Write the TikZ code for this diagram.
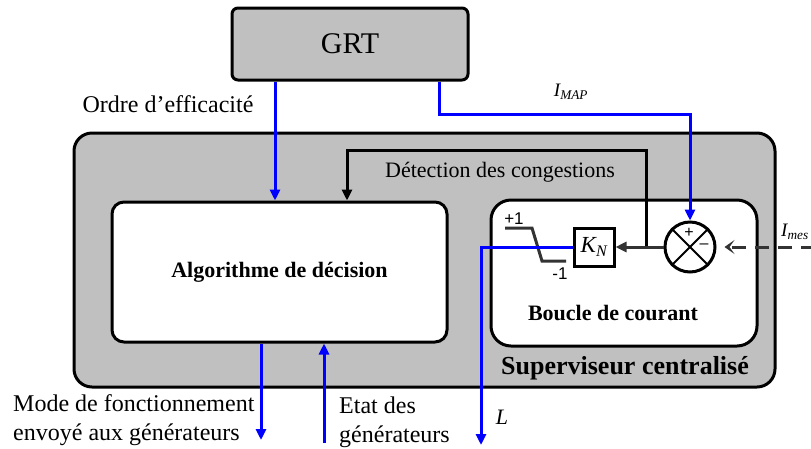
\documentclass[tikz,border=0pt]{standalone}
\usepackage{fontspec}
\setmainfont{Liberation Serif}
\newfontfamily\arialfont{Liberation Sans}
\usepackage{tikz}
\usetikzlibrary{positioning, arrows.meta}

\definecolor{grisbloc}{RGB}{192,192,192}
\definecolor{grisfonce}{RGB}{51,51,51}

\begin{document}
\begin{tikzpicture}[
    x=1pt, y=-1pt,
    bloc/.style={draw, line width=3pt, align=center, inner sep=0pt},
    texte/.style={inner sep=0pt, align=left},
    fleche/.style={draw=blue, line width=3pt, -{Triangle[length=11pt,width=10pt]}},
    retour/.style={draw, line width=3pt, -{Triangle[length=11pt,width=10pt]}},
    sature/.style={draw=grisfonce, line width=3pt}
]
\useasboundingbox (0,0) rectangle (811,448);

% blocs
\node[bloc, fill=grisbloc, rounded corners=6pt, minimum width=236pt, minimum height=72pt,
      font=\fontsize{30}{34}\selectfont] (grt) at (350,44) {GRT};
\node[bloc, fill=grisbloc, rounded corners=18pt, minimum width=701pt, minimum height=254pt] (superviseur) at (424.5,260) {};
\node[bloc, fill=white, rounded corners=12pt, minimum width=335pt, minimum height=140pt,
      font=\fontsize{22}{26}\selectfont\bfseries] (algo) at (279.5,272) {Algorithme de décision};
\node[bloc, fill=white, rounded corners=20pt, minimum width=266pt, minimum height=146pt] (boucle) at (624,273) {};
\node[texte, font=\fontsize{22}{26}\selectfont\bfseries] (boucletxt) at (613,313) {Boucle de courant};
\node[texte, font=\fontsize{26}{30}\selectfont\bfseries] (supertxt) at (625,368) {Superviseur centralisé};

% gain et sommateur
\node[bloc, minimum width=40pt, minimum height=38pt, font=\fontsize{23}{26}\selectfont] (kn) at (594,247) {\itshape K\textsubscript{N}};
\node[bloc, circle, minimum size=50pt] (somme) at (690,247) {};
\draw[line width=2pt] (somme.north west) -- (somme.south east);
\draw[line width=2pt] (somme.north east) -- (somme.south west);
\node[texte, font=\arialfont\fontsize{16}{18}\selectfont] (plus) at (689,233) {+};
\node[texte, font=\arialfont\fontsize{16}{18}\selectfont] (moins) at (704,246) {–};

% saturation
\draw[sature] (505,228) -- (532,228) -- (542,261) -- (566,261);
\node[texte, font=\arialfont\fontsize{17}{19}\selectfont] (pun) at (514,219) {+1};
\node[texte, font=\arialfont\fontsize{17}{19}\selectfont] (mun) at (560,274) {-1};

% points de passage
\coordinate (ordre) at (275,0);
\coordinate (imap) at (439,0);
\coordinate (jonction) at (646,247);
\coordinate (detection) at (347,150);
\coordinate (mesure) at (815,247);
\coordinate (mode) at (261,440);
\coordinate (etat) at (324,443);
\coordinate (sortieL) at (481,445);

% liaisons
\draw[fleche] (grt.south -| ordre) -- (algo.north -| ordre);
\draw[fleche] (grt.south -| imap) -- ++(0,33) -| (somme.north);
\draw[retour] (jonction) |- (detection) -- (detection |- algo.north);
\draw[retour, draw=grisfonce] (somme.west) -- (kn.east);
\draw[fleche] (kn.west) -| (sortieL);
\draw[draw=grisfonce, line width=3pt, dash pattern=on 14pt off 9pt, shorten >=8pt,
      -{Stealth[length=10pt,width=14pt,inset=5pt]}] (mesure) -- (somme.east);
\draw[fleche] (algo.south -| mode) -- (mode);
\draw[fleche] (etat) -- (etat |- algo.south);

% textes
\node[texte, font=\fontsize{24}{29}\selectfont] (ordretxt) at (168,104) {Ordre d’efficacité};
\node[texte, font=\fontsize{22}{26}\selectfont] (detecttxt) at (500,172) {Détection des congestions};
\node[texte, font=\fontsize{19}{22}\selectfont] (imaptxt) at (571,92) {\itshape I\textsubscript{MAP}};
\node[texte, anchor=west, font=\fontsize{19}{22}\selectfont] (imestxt) at (781,232) {\itshape I\textsubscript{mes}};
\node[texte, anchor=west, font=\fontsize{24}{29}\selectfont] (modetxt) at (13,420) {Mode de fonctionnement\\envoyé aux générateurs};
\node[texte, anchor=west, font=\fontsize{24}{29}\selectfont] (etattxt) at (339,422) {Etat des\\générateurs};
\node[texte, font=\fontsize{22}{26}\selectfont] (ltxt) at (502,417) {\itshape L};
\end{tikzpicture}
\end{document}
